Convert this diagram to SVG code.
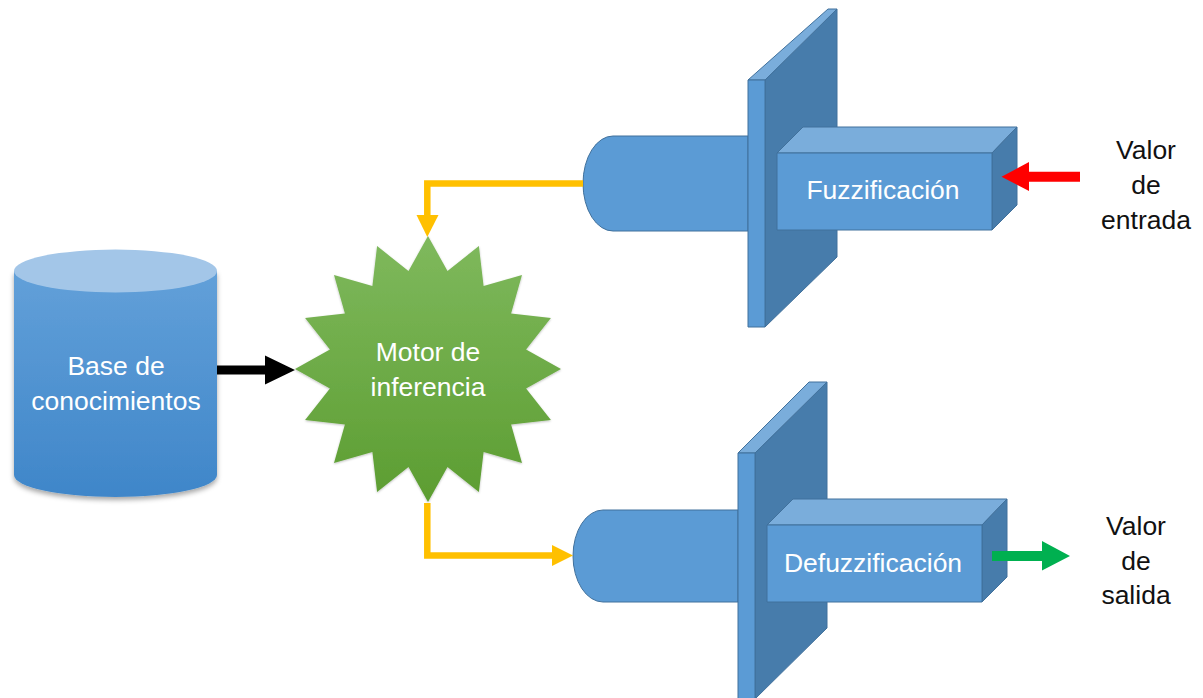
<svg xmlns="http://www.w3.org/2000/svg" width="1203" height="698" viewBox="0 0 1203 698">
  <defs>
    <linearGradient id="cylBody" x1="0" y1="0" x2="0" y2="1">
      <stop offset="0" stop-color="#62a0d9"/>
      <stop offset="1" stop-color="#3f86c9"/>
    </linearGradient>
    <linearGradient id="starFill" x1="0" y1="0" x2="0" y2="1">
      <stop offset="0" stop-color="#7fb95d"/>
      <stop offset="1" stop-color="#5c9d31"/>
    </linearGradient>
    <filter id="shadow" x="-10%" y="-10%" width="120%" height="130%">
      <feDropShadow dx="0" dy="3" stdDeviation="2.5" flood-color="#000" flood-opacity="0.35"/>
    </filter>
    <filter id="soft" x="-10%" y="-10%" width="120%" height="120%">
      <feDropShadow dx="0" dy="1" stdDeviation="1.2" flood-color="#000" flood-opacity="0.25"/>
    </filter>
  </defs>
  <style>
    .face { fill: #5b9bd5; stroke: #41719c; stroke-width: 1; stroke-linejoin: round; }
    .side { fill: #477cab; stroke: #41719c; stroke-width: 1; stroke-linejoin: round; }
    .top { fill: #7aaddb; stroke: #41719c; stroke-width: 1; stroke-linejoin: round; }
    .lbl { font-family: "Liberation Sans", Arial, sans-serif; font-size: 26.5px; fill: #ffffff; text-anchor: middle; }
    .ext { font-family: "Liberation Sans", Arial, sans-serif; font-size: 26.5px; fill: #111111; text-anchor: middle; }
    .yel { fill: none; stroke: #ffc000; stroke-width: 6.5; stroke-linejoin: miter; }
  </style>

  <rect width="1203" height="698" fill="#ffffff"/>

  <!-- Knowledge base cylinder -->
  <g id="base">
    <g filter="url(#shadow)">
      <path d="M14,271 L14,475 A101.5 22 0 0 0 217,475 L217,271 Z" fill="url(#cylBody)"/>
    </g>
    <ellipse cx="115.5" cy="271" rx="101.5" ry="21.5" fill="#a3c6e8"/>
    <text class="lbl" x="116" y="375">Base de</text>
    <text class="lbl" x="116" y="410">conocimientos</text>
  </g>

  <!-- Inference engine star -->
  <g id="motor">
    <polygon filter="url(#soft)" fill="url(#starFill)" points="428,236 447.5,270.9 478.9,246.1 483.6,285.9 522,275 511.1,313.4 550.9,318.1 526.1,349.5 561,369 526.1,388.5 550.9,419.9 511.1,424.6 522,463 483.6,452.1 478.9,491.9 447.5,467.1 428,502 408.5,467.1 377.1,491.9 372.4,452.1 334,463 344.9,424.6 305.1,419.9 329.9,388.5 295,369 329.9,349.5 305.1,318.1 344.9,313.4 334,275 372.4,285.9 377.1,246.1 408.5,270.9"/>
    <text class="lbl" x="428" y="361">Motor de</text>
    <text class="lbl" x="428" y="396">inferencia</text>
  </g>

  <!-- Fuzzification stage -->
  <g id="fuzz">
    <path class="face" d="M748,136 L613,136 A30 47.5 0 0 0 613,231 L748,231 Z"/>
    <polygon class="side" points="765,80 837,9 837,257 765,327"/>
    <polygon class="top" points="748,80 828,9 837,9 765,80"/>
    <rect class="face" x="748" y="80" width="17" height="247"/>
    <polygon class="top" points="777,153 803,127 1017,127 992,153"/>
    <polygon class="side" points="992,153 1017,127 1017,205 992,230"/>
    <rect class="face" x="777" y="153" width="215" height="77"/>
    <text class="lbl" x="883" y="199">Fuzzificación</text>
  </g>

  <!-- Defuzzification stage -->
  <g id="defuzz">
    <path class="face" d="M738,510 L603,510 A30 46 0 0 0 603,602 L738,602 Z"/>
    <polygon class="side" points="755,453 827,382 827,628 755,699"/>
    <polygon class="top" points="738,453 809,382 827,382 755,453"/>
    <rect class="face" x="738" y="453" width="17" height="246"/>
    <polygon class="top" points="767,525 793,499 1007,499 982,525"/>
    <polygon class="side" points="982,525 1007,499 1007,577 982,602"/>
    <rect class="face" x="767" y="525" width="215" height="77"/>
    <text class="lbl" x="873" y="572">Defuzzificación</text>
  </g>

  <!-- Input / output labels -->
  <g id="entrada">
    <text class="ext" x="1146" y="159">Valor</text>
    <text class="ext" x="1146" y="194">de</text>
    <text class="ext" x="1146" y="229">entrada</text>
  </g>
  <g id="salida">
    <text class="ext" x="1136" y="535">Valor</text>
    <text class="ext" x="1136" y="570">de</text>
    <text class="ext" x="1136" y="604">salida</text>
  </g>

  <!-- Connectors -->
  <g id="connectors">
    <!-- knowledge base to engine -->
    <polygon fill="#000000" points="217,365.5 265,365.5 265,355.5 295,370 265,384.5 265,374.5 217,374.5"/>
    <!-- fuzzification to engine -->
    <polyline class="yel" points="583,183.5 427.3,183.5 427.3,215"/>
    <polygon fill="#ffc000" points="416.5,215 438.5,215 427.3,237"/>
    <!-- engine to defuzzification -->
    <polyline class="yel" points="427.3,503 427.3,555.5 552,555.5"/>
    <polygon fill="#ffc000" points="552,545 552,566 573,555.5"/>
    <!-- input value -->
    <polygon fill="#ff0000" points="1080,171.7 1029,171.7 1029,162 1001.5,176.7 1029,191 1029,181.7 1080,181.7"/>
    <!-- output value -->
    <polygon fill="#00b050" points="992,551 1042,551 1042,541 1070,556 1042,570.5 1042,561 992,561"/>
  </g>
</svg>
